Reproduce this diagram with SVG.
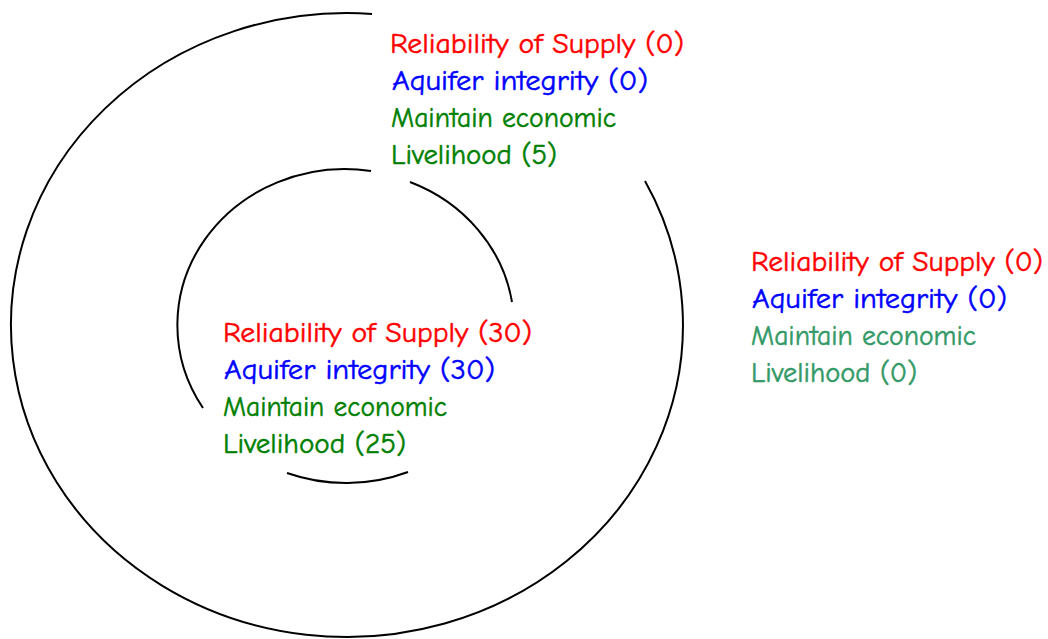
<svg xmlns="http://www.w3.org/2000/svg" width="1048" height="639" viewBox="0 0 1048 639">
  <style>
    .ring { fill: none; stroke: #000; stroke-width: 2; }
    .lbl { font-family: "Comic Sans MS", "Comic Neue", "Noto Sans", "DejaVu Sans", sans-serif; font-size: 29px; stroke-width: 0.5; }
    .red { fill: #ff0000; stroke: #ff0000; }
    .blue { fill: #0000ff; stroke: #0000ff; }
    .green { fill: #008000; stroke: #008000; }
    .sea { fill: #339966; stroke: #339966; }
  </style>
  <rect width="1048" height="639" fill="#fff"/>

  <!-- open rings -->
  <g id="connectors">
    <g id="outer-ring">
      <path class="ring" d="M 372 13.9 A 336 312 0 1 0 645 181"/>
    </g>
    <g id="inner-ring">
      <path class="ring" d="M 371 171 A 167.5 156 0 0 0 203 408"/>
      <path class="ring" d="M 287 473 A 167.5 156 0 0 0 408 472"/>
      <path class="ring" d="M 410 182 A 167.5 156 0 0 1 512 302"/>
    </g>
  </g>

  <!-- top label block -->
  <g id="node-top">
    <text class="lbl red" x="390" y="53" textLength="294" lengthAdjust="spacingAndGlyphs">Reliability of Supply (0)</text>
    <text class="lbl blue" x="392" y="90" textLength="256" lengthAdjust="spacingAndGlyphs">Aquifer integrity (0)</text>
    <text class="lbl green" x="391" y="127" textLength="225" lengthAdjust="spacingAndGlyphs">Maintain economic</text>
    <text class="lbl green" x="391" y="164" textLength="166" lengthAdjust="spacingAndGlyphs">Livelihood (5)</text>
  </g>

  <!-- centre label block -->
  <g id="node-centre">
    <text class="lbl red" x="223" y="342" textLength="309" lengthAdjust="spacingAndGlyphs">Reliability of Supply (30)</text>
    <text class="lbl blue" x="224" y="379" textLength="271" lengthAdjust="spacingAndGlyphs">Aquifer integrity (30)</text>
    <text class="lbl green" x="223" y="416" textLength="224" lengthAdjust="spacingAndGlyphs">Maintain economic</text>
    <text class="lbl green" x="223" y="453" textLength="183" lengthAdjust="spacingAndGlyphs">Livelihood (25)</text>
  </g>

  <!-- outside label block -->
  <g id="node-outside">
    <text class="lbl red" x="751" y="271" textLength="292" lengthAdjust="spacingAndGlyphs">Reliability of Supply (0)</text>
    <text class="lbl blue" x="752" y="308" textLength="255" lengthAdjust="spacingAndGlyphs">Aquifer integrity (0)</text>
    <text class="lbl sea" x="751" y="345" textLength="225" lengthAdjust="spacingAndGlyphs">Maintain economic</text>
    <text class="lbl sea" x="751" y="382" textLength="166" lengthAdjust="spacingAndGlyphs">Livelihood (0)</text>
  </g>
</svg>
